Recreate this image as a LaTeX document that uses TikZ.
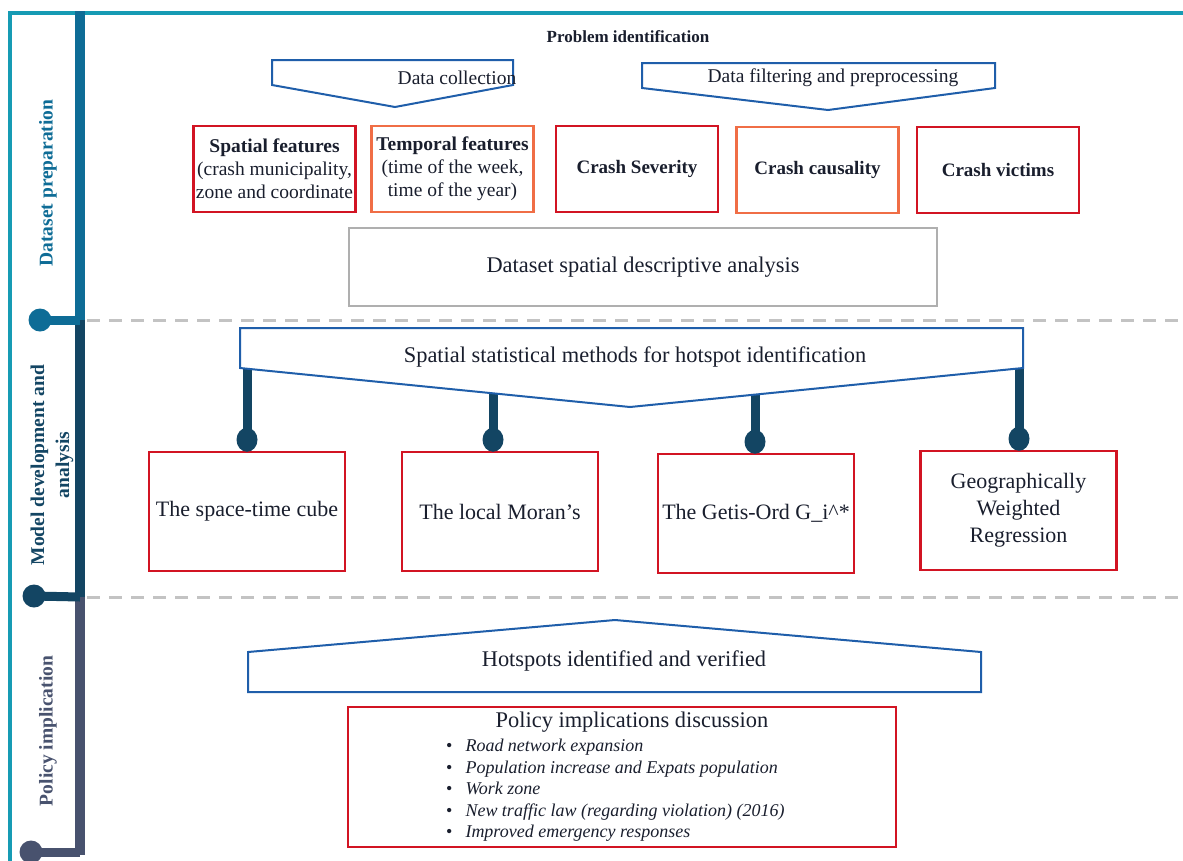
\documentclass[tikz,border=0pt]{standalone}
\usepackage{fontspec}
\setmainfont{LiberationSerif}[Extension=.ttf,UprightFont=*-Regular,BoldFont=*-Bold,ItalicFont=*-Italic,BoldItalicFont=*-BoldItalic]
\definecolor{frameteal}{RGB}{22,155,180}
\definecolor{barA}{RGB}{14,108,150}
\definecolor{barB}{RGB}{19,69,99}
\definecolor{barC}{RGB}{72,82,110}
\definecolor{penblue}{RGB}{31,94,170}
\definecolor{crashred}{RGB}{210,20,35}
\definecolor{crashorange}{RGB}{240,110,70}
\definecolor{boxgray}{RGB}{175,175,175}
\definecolor{sepgray}{RGB}{195,195,195}
\definecolor{ink}{RGB}{25,30,45}
\tikzset{
  pent/.style={draw=penblue,line width=2pt,fill=white,line join=miter},
  sep/.style={sepgray,line width=3pt,dash pattern=on 13pt off 9pt},
  featbox/.style={draw=crashred,line width=2.5pt,minimum width=162pt,minimum height=86pt,
    inner sep=1pt,align=center,text=ink,font=\fontsize{19.5}{23}\selectfont},
  methodbox/.style={draw=crashred,line width=2.5pt,minimum width=196pt,minimum height=119pt,
    inner sep=2pt,align=center,text=ink,font=\fontsize{22}{27}\selectfont},
  sidelab/.style={rotate=90,align=center,font=\fontsize{19.5}{25}\selectfont\bfseries},
  stem/.style={barB,line width=9pt}
}
\begin{document}
\begin{tikzpicture}
    [x=1pt,y=-1pt,text=ink,
    plain/.style={font=\fontsize{22.4}{26}\selectfont}]
    \useasboundingbox (0,0) rectangle (1183,860);
    %frame
    \draw[frameteal,line width=4pt] (10,862)--(10,13)--(1185,13);
    %side bar
    \coordinate (j0) at (80,11);
    \coordinate (j1) at (80,320);
    \coordinate (j2) at (80,597);
    \coordinate (j3) at (80,855);
    \coordinate (k1) at (40,320);
    \coordinate (k2) at (34,596);
    \coordinate (k3) at (31,852);
    \draw[barA,line width=10pt] (j0)--(j1);
    \draw[barB,line width=10pt] (j1)--(j2);
    \draw[barC,line width=10pt] (j2)--(j3);
    \draw[barA,line width=9pt] (k1)--(j1);
    \fill[barA] (k1) circle (11.5pt);
    \draw[barB,line width=9pt] (k2)--(j2);
    \fill[barB] (k2) circle (11.5pt);
    \draw[barC,line width=9pt] (k3)--(j3 |- k3);
    \fill[barC] (k3) circle (11.5pt);
    %side labels
    \node[sidelab,text=barA] (prep) at (48,183) {Dataset preparation};
    \node[sidelab,text=barB] (model) at (52,465) {Model development and\\analysis};
    \node[sidelab,text=barC] (policy) at (48,731) {Policy implication};
    %separators
    \coordinate (e1) at (1185,320);
    \coordinate (e2) at (1185,597);
    \draw[sep] ([xshift=7pt]j1)--(e1);
    \draw[sep] ([xshift=7pt]j2)--(e2);
    %problem identification
    \node[font=\fontsize{17}{20}\selectfont\bfseries] (problem) at (628,37) {Problem identification};
    \draw[pent] (272,60)--(513,60)--(513,85)--(395,107)--(272,85)--cycle;
    \node[font=\fontsize{19.5}{22}\selectfont] (collect) at (457,78) {Data collection};
    \draw[pent] (642,63)--(995,63)--(995,88)--(828,110)--(642,88)--cycle;
    \node[font=\fontsize{19.5}{22}\selectfont] (filter) at (833,78) {Data filtering and preprocessing};
    %features
    \node[featbox] (spatial) at (274.5,169) {\textbf{Spatial features}\\(crash municipality,\\zone and coordinate};
    \node[featbox,draw=crashorange] (temporal) at (452.5,169) {\textbf{Temporal features}\\(time of the week,\\time of the year)};
    \node[featbox,font=\fontsize{19}{23}\selectfont\bfseries] (severity) at (637,169) {Crash Severity};
    \node[featbox,draw=crashorange,font=\fontsize{19}{23}\selectfont\bfseries] (causality) at (817.5,170) {Crash causality};
    \node[featbox,font=\fontsize{19}{23}\selectfont\bfseries] (victims) at (998,170) {Crash victims};
    \node[plain,draw=boxgray,line width=2pt,minimum width=588pt,minimum height=78pt] (descr) at (643,267) {Dataset spatial descriptive analysis};
    %methods
    \node[methodbox] (cube) at (247,511.5) {The space-time cube};
    \node[methodbox] (moran) at (500,511.5) {The local Moran’s};
    \node[methodbox] (getis) at (756,513.5) {The Getis-Ord G\textunderscore i\textasciicircum*};
    \node[methodbox] (gwr) at (1018.5,510.5) {Geographically\\Weighted\\Regression};
    \coordinate (s1) at (247,360);
    \coordinate (s2) at (493,380);
    \coordinate (s3) at (755,380);
    \coordinate (s4) at (1019,360);
    \foreach \s/\b in {s1/cube,s2/moran,s3/getis,s4/gwr}{
      \draw[stem] (\s)--([yshift=11pt]\s |- \b.north);
      \fill[barB] ([yshift=11pt]\s |- \b.north) ellipse (10.5pt and 12pt);
    }
    \draw[pent] (240,328)--(1023,328)--(1023,368)--(630,407)--(240,368)--cycle;
    \node[plain] (methods) at (635,357) {Spatial statistical methods for hotspot identification};
    %policy
    \draw[pent] (248,692)--(981,692)--(981,652)--(615,620)--(248,652)--cycle;
    \node[plain] (hotspots) at (624,661) {Hotspots identified and verified};
    \node[draw=crashred,line width=2.5pt,minimum width=548pt,minimum height=140pt] (discuss) at (622,777) {};
    \node[plain] (ptitle) at (632,722) {Policy implications discussion};
    \node[anchor=north west,inner sep=0pt,align=left,font=\fontsize{18}{21.5}\selectfont\itshape] (items) at (446,739)
    {\upshape\textbullet\hspace{13pt}\itshape Road network expansion\\
     \upshape\textbullet\hspace{13pt}\itshape Population increase and Expats population\\
     \upshape\textbullet\hspace{13pt}\itshape Work zone\\
     \upshape\textbullet\hspace{13pt}\itshape New traffic law (regarding violation) (2016)\\
     \upshape\textbullet\hspace{13pt}\itshape Improved emergency responses};
\end{tikzpicture}
\end{document}
